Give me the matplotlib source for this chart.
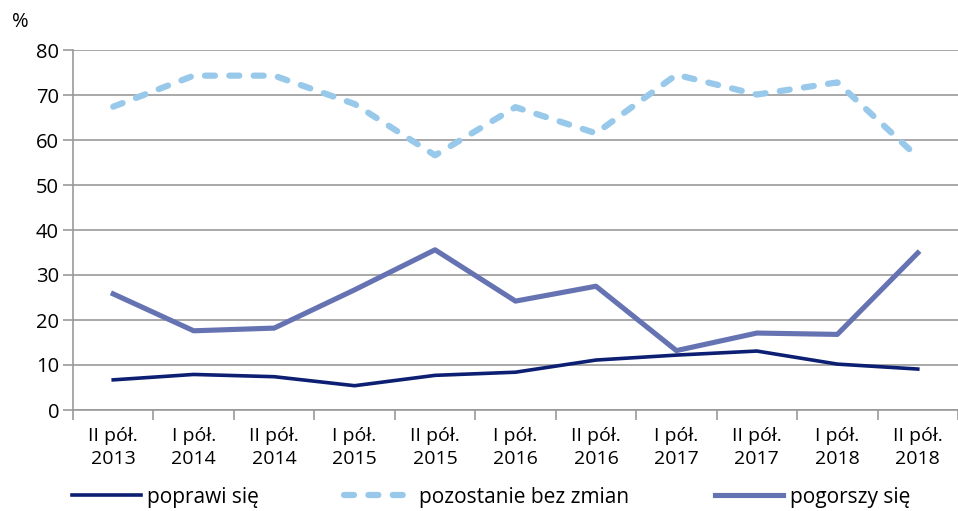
import matplotlib
matplotlib.use('Agg')
import matplotlib.pyplot as plt

plt.rcParams['font.family'] = ['Open Sans', 'DejaVu Sans']

categories = ['II pół.\n2013', 'I pół.\n2014', 'II pół.\n2014', 'I pół.\n2015', 'II pół.\n2015',
              'I pół.\n2016', 'II pół.\n2016', 'I pół.\n2017', 'II pół.\n2017', 'I pół.\n2018',
              'II pół.\n2018']
poprawi = [6.7, 7.9, 7.4, 5.4, 7.7, 8.4, 11.1, 12.2, 13.1, 10.2, 9.1]
bez_zmian = [67.4, 74.3, 74.3, 68.0, 56.6, 67.3, 61.5, 74.5, 70.1, 72.8, 56.2]
pogorszy = [25.8, 17.6, 18.2, 26.7, 35.6, 24.2, 27.5, 13.2, 17.1, 16.8, 34.9]
yticks = [0, 10, 20, 30, 40, 50, 60, 70, 80]

fig = plt.figure(figsize=(9.58, 5.11), dpi=100)
ax = fig.add_axes([73/958, 1 - 410/511, 1 - 73/958, 360/511])

x = range(len(categories))
ax.plot(x, poprawi, color='#0d1f72', lw=2.6, label='poprawi się', zorder=4)
ax.plot(x, bez_zmian, color='#99c9ea', lw=4.5, dashes=(1.6, 2.3), dash_capstyle='round',
        label='pozostanie bez zmian', zorder=3)
ax.plot(x, pogorszy, color='#6673b3', lw=3.7, label='pogorszy się', zorder=3)

ax.set_xlim(-0.5, len(categories) - 0.5)
ax.set_ylim(0, 80)
ax.set_yticks(yticks)
ax.set_xticks(x)
ax.set_xticklabels(categories, fontsize=14, linespacing=1.4)
ax.set_xticks([i - 0.5 for i in range(len(categories) + 1)], minor=True)
ax.tick_params(axis='x', which='major', length=0, pad=12)
ax.tick_params(axis='x', which='minor', length=7, color='#999999', width=1.2)
ax.tick_params(axis='y', length=7, color='#999999', width=1.2, labelsize=14.5, pad=3)
ax.grid(axis='y', color='#999999', lw=1.2, zorder=0)
for s in ['top', 'right']:
    ax.spines[s].set_visible(False)
for s in ['left', 'bottom']:
    ax.spines[s].set_color('#999999')
    ax.spines[s].set_linewidth(1.2)

fig.text(12/958, 1 - 22/511, '%', fontsize=14.5, va='center')

fig.legend(loc='center left', bbox_to_anchor=(72/958, 1 - 497/511, 838/958, 0), mode='expand',
           ncol=3, frameon=False, fontsize=15, handlelength=3.3, handletextpad=0.3,
           borderaxespad=0, borderpad=0)

fig.savefig('out.png', dpi=100)
